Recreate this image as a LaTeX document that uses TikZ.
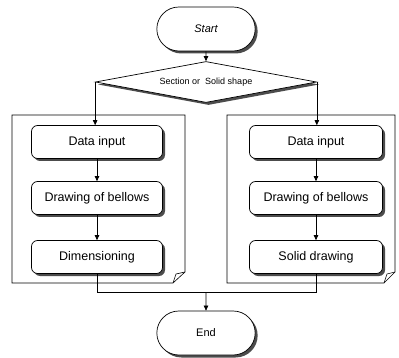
\documentclass[tikz,border=0pt]{standalone}
\usepackage{fontspec}
\setmainfont{Liberation Sans}
\usetikzlibrary{shapes.geometric,shapes.misc,arrows.meta,shadows}
\begin{document}
\begin{tikzpicture}[x=1pt,y=-1pt,
  line width=0.7pt,
  shad/.style={drop shadow={shadow xshift=2.5pt,shadow yshift=-2.5pt,fill=black!70,opacity=1}},
  procbox/.style={draw,fill=white,rounded corners=6pt,minimum width=131pt,minimum height=33pt,inner sep=1pt,font=\fontsize{12.5}{14}\selectfont,shad},
  termbox/.style={draw,fill=white,rounded rectangle,minimum width=105pt,minimum height=44pt,font=\fontsize{11}{13}\selectfont,shad},
  decbox/.style={draw,fill=white,diamond,aspect=5.5,minimum width=221pt,minimum height=41pt,inner sep=0pt,font=\fontsize{9}{11}\selectfont,shad},
  arr/.style={-{Triangle[length=5pt,width=4.5pt]}},
  panel/.style={draw,fill=white,line width=0.6pt}]
\useasboundingbox (0,0) rectangle (399,358);
% panels
\draw[panel] (12,115) -- (185,115) -- (185,272) -- (173,283) -- (12,283) -- cycle;
\draw[line width=0.6pt] (173,283) -- (176,274) -- (185,272);
\draw[panel] (227,115) -- (395,115) -- (395,272) -- (384,283) -- (227,283) -- cycle;
\draw[line width=0.6pt] (384,283) -- (387,274) -- (395,272);
% nodes
\node[termbox] (start) at (206,29) {\itshape Start};
\node[decbox] (dec) at (206,82) {Section or\ \ Solid shape};
\node[procbox] (dl) at (97,142) {Data input};
\node[procbox] (bl) at (97,198) {Drawing of bellows};
\node[procbox] (ml) at (97,257) {Dimensioning};
\node[procbox,minimum width=133pt] (dr) at (316,142) {Data input};
\node[procbox,minimum width=133pt] (br) at (316,198) {Drawing of bellows};
\node[procbox,minimum width=133pt] (sr) at (316,257) {Solid drawing};
\node[termbox] (end) at (206,333) {End};
\coordinate (mj) at (206,292);
% connectors
\draw[arr] (start) -- (dec);
\draw[arr] (dec.west) -- (dec.west |- dl.north);
\draw[arr] (dec.east) -- (dec.east |- dr.north);
\draw[arr] (dl) -- (bl);
\draw[arr] (bl) -- (ml);
\draw[arr] (dr) -- (br);
\draw[arr] (br) -- (sr);
\draw (ml.south) -- (ml.south |- mj) -- (sr.south |- mj) -- (sr.south);
\draw[arr] (mj) -- (end);
\end{tikzpicture}
\end{document}
